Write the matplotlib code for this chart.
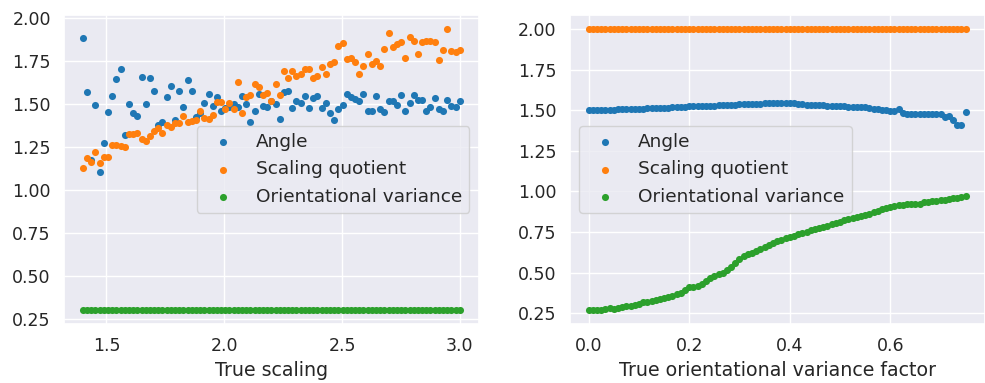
import numpy as np
import seaborn as sns
from matplotlib import pyplot as plt

# scaling sweep
scaling = np.linspace(1.4, 3.0, 91)
angle_s = [1.884, 1.568, 1.173, 1.490, 1.105, 1.272, 1.453, 1.545, 1.641, 1.702,
           1.320, 1.498, 1.444, 1.426, 1.655, 1.500, 1.647, 1.574, 1.376, 1.395,
           1.537, 1.603, 1.407, 1.572, 1.483, 1.636, 1.576, 1.420, 1.448, 1.504,
           1.556, 1.488, 1.539, 1.455, 1.475, 1.483, 1.498, 1.478, 1.543, 1.498,
           1.395, 1.459, 1.554, 1.484, 1.478, 1.517, 1.498, 1.409, 1.570, 1.572,
           1.475, 1.513, 1.502, 1.547, 1.475, 1.533, 1.547, 1.473, 1.506, 1.446,
           1.403, 1.471, 1.492, 1.554, 1.539, 1.525, 1.513, 1.556, 1.459, 1.455,
           1.545, 1.467, 1.453, 1.516, 1.517, 1.490, 1.552, 1.455, 1.504, 1.552,
           1.521, 1.519, 1.459, 1.478, 1.531, 1.469, 1.455, 1.521, 1.488, 1.478, 1.517]
quotient_s = [1.126, 1.184, 1.159, 1.221, 1.153, 1.192, 1.192, 1.262, 1.258, 1.256,
              1.250, 1.326, 1.322, 1.331, 1.295, 1.281, 1.310, 1.339, 1.356, 1.327,
              1.374, 1.366, 1.385, 1.388, 1.430, 1.395, 1.397, 1.407, 1.459, 1.417,
              1.409, 1.436, 1.512, 1.508, 1.467, 1.504, 1.469, 1.626, 1.448, 1.537,
              1.550, 1.612, 1.595, 1.552, 1.560, 1.516, 1.612, 1.552, 1.692, 1.651,
              1.692, 1.659, 1.670, 1.702, 1.702, 1.649, 1.659, 1.715, 1.674, 1.733,
              1.742, 1.835, 1.853, 1.760, 1.764, 1.742, 1.673, 1.719, 1.787, 1.729,
              1.746, 1.719, 1.818, 1.910, 1.830, 1.847, 1.860, 1.766, 1.886, 1.866,
              1.787, 1.860, 1.866, 1.866, 1.860, 1.752, 1.814, 1.934, 1.804, 1.798, 1.812]
variance_s = [0.3] * 91

# orientational variance sweep
variance_factor = np.linspace(0.0, 0.75, 91)
angle_v = [1.500, 1.501, 1.501, 1.502, 1.503, 1.503, 1.504, 1.505, 1.505, 1.506,
           1.507, 1.508, 1.509, 1.510, 1.511, 1.512, 1.513, 1.514, 1.515, 1.516,
           1.518, 1.519, 1.520, 1.521, 1.523, 1.524, 1.524, 1.525, 1.526, 1.527,
           1.527, 1.529, 1.530, 1.530, 1.532, 1.534, 1.536, 1.537, 1.538, 1.537,
           1.539, 1.541, 1.542, 1.543, 1.545, 1.544, 1.543, 1.545, 1.546, 1.545,
           1.541, 1.538, 1.535, 1.533, 1.531, 1.530, 1.529, 1.528, 1.526, 1.525,
           1.524, 1.523, 1.522, 1.521, 1.519, 1.518, 1.517, 1.513, 1.509, 1.506,
           1.503, 1.500, 1.497, 1.495, 1.508, 1.480, 1.477, 1.476, 1.477, 1.478,
           1.476, 1.477, 1.478, 1.477, 1.476, 1.461, 1.465, 1.442, 1.410, 1.410, 1.486]
quotient_v = [2.0] * 91
variance_v = [0.270, 0.271, 0.272, 0.272, 0.273, 0.281, 0.276, 0.283, 0.288, 0.292,
              0.297, 0.303, 0.309, 0.316, 0.322, 0.327, 0.333, 0.339, 0.346, 0.352,
              0.358, 0.366, 0.377, 0.392, 0.410, 0.414, 0.418, 0.432, 0.451, 0.466,
              0.479, 0.489, 0.500, 0.516, 0.535, 0.557, 0.583, 0.600, 0.612, 0.622,
              0.632, 0.645, 0.658, 0.669, 0.680, 0.692, 0.703, 0.712, 0.720, 0.728,
              0.737, 0.745, 0.752, 0.760, 0.767, 0.775, 0.782, 0.790, 0.798, 0.806,
              0.814, 0.822, 0.830, 0.837, 0.843, 0.848, 0.852, 0.860, 0.872, 0.882,
              0.890, 0.897, 0.903, 0.909, 0.914, 0.918, 0.920, 0.921, 0.922, 0.921,
              0.935, 0.937, 0.938, 0.941, 0.944, 0.948, 0.953, 0.957, 0.962, 0.966, 0.972]

labels = ['Angle', 'Scaling quotient', 'Orientational variance']

sns.set_theme(style='darkgrid', palette='tab10')
plt.rcParams['font.family'] = ['DejaVu Sans']

fig, (ax1, ax2) = plt.subplots(1, 2, figsize=(9.85, 3.83), dpi=100)
fig.subplots_adjust(left=0.065, right=0.9995, bottom=0.154, top=0.961, wspace=0.22)

for ax, x, series, xlabel, loc in [
        (ax1, scaling, [angle_s, quotient_s, variance_s], 'True scaling', 'center right'),
        (ax2, variance_factor, [angle_v, quotient_v, variance_v],
         'True orientational variance factor', 'center left')]:
    for y, lab in zip(series, labels):
        ax.scatter(x, y, s=26, linewidths=0, label=lab)
    ax.set_xlabel(xlabel, fontsize=13.7)
    ax.tick_params(labelsize=12.5)
    ax.legend(loc=loc, fontsize=13.3)

fig.savefig('out.png', dpi=100)
